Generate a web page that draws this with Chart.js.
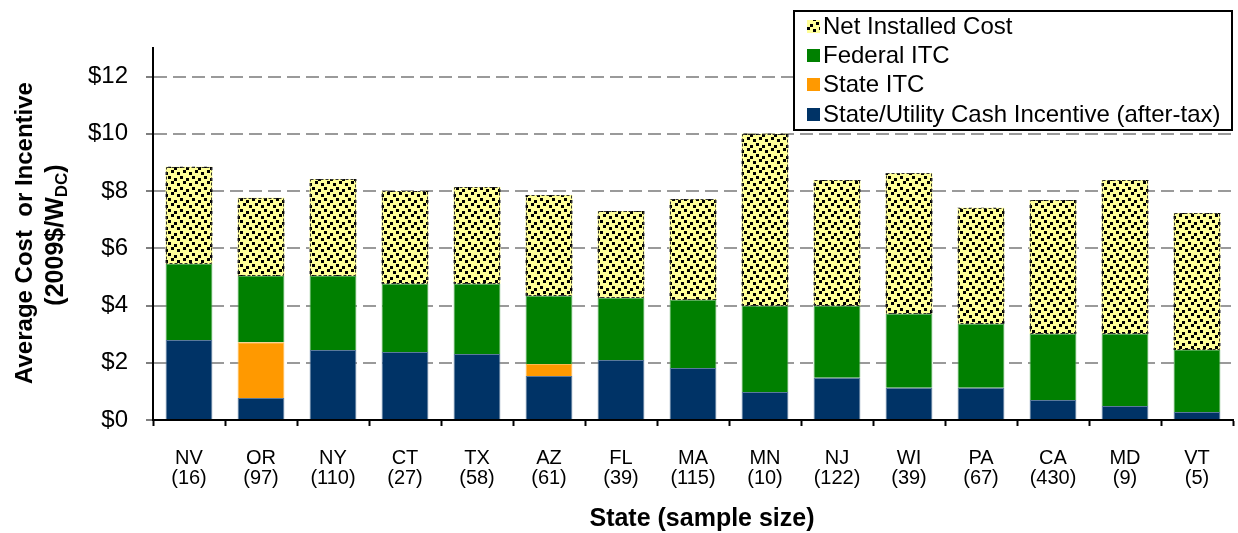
<!DOCTYPE html>
<html>
<head>
<meta charset="utf-8">
<script src="https://cdn.jsdelivr.net/npm/chart.js@4.4.1/dist/chart.umd.min.js"></script>
<style>
  html, body { margin: 0; padding: 0; background: #fff; }
  #wrap { width: 1238px; height: 533px; }
</style>
</head>
<body>
<div id="wrap"><canvas id="c" width="1238" height="533"></canvas></div>
<script>
// States with their sample sizes
const states = ['NV', 'OR', 'NY', 'CT', 'TX', 'AZ', 'FL', 'MA', 'MN', 'NJ', 'WI', 'PA', 'CA', 'MD', 'VT'];
const sampleSizes = [16, 97, 110, 27, 58, 61, 39, 115, 10, 122, 39, 67, 430, 9, 5];

// Stacked components, 2009$/W_DC (bottom to top)
const cashIncentive = [2.80, 0.77, 2.45, 2.38, 2.31, 1.54, 2.10, 1.82, 0.98, 1.48, 1.13, 1.13, 0.70, 0.49, 0.28];
const stateITC      = [0, 1.95, 0, 0, 0, 0.42, 0, 0, 0, 0, 0, 0, 0, 0, 0];
const federalITC    = [2.65, 2.31, 2.58, 2.38, 2.45, 2.38, 2.17, 2.38, 3.01, 2.51, 2.58, 2.23, 2.31, 2.52, 2.17];
const netCost       = [3.40, 2.74, 3.39, 3.24, 3.38, 3.52, 3.03, 3.52, 6.01, 4.40, 4.91, 4.06, 4.68, 5.38, 4.78];

const yTicks = [0, 2, 4, 6, 8, 10, 12];

const FONT = "'Liberation Sans', Arial, sans-serif";

// Yellow fill with black confetti squares
function makeConfetti() {
  const t = document.createElement('canvas');
  t.width = 12; t.height = 11;
  const g = t.getContext('2d');
  g.fillStyle = '#FFFF99';
  g.fillRect(0, 0, 12, 11);
  g.fillStyle = '#000';
  [[0, 0], [6, 2], [3, 5], [9, 7]].forEach(([x, y]) => g.fillRect(x, y, 3, 3));
  return document.getElementById('c').getContext('2d').createPattern(t, 'repeat');
}
const confetti = makeConfetti();

const labels = states.map((s, i) => [s, '(' + sampleSizes[i] + ')']);

// Dashed outline around the net-cost segments
const netOutline = {
  id: 'netOutline',
  afterDatasetsDraw(chart) {
    const meta = chart.getDatasetMeta(3);
    const ctx = chart.ctx;
    ctx.save();
    ctx.strokeStyle = '#333';
    ctx.lineWidth = 1;
    ctx.setLineDash([3, 2]);
    meta.data.forEach(b => {
      const x0 = Math.round(b.x - b.width / 2) + 0.5;
      const x1 = Math.round(b.x + b.width / 2) - 0.5;
      ctx.strokeRect(x0, Math.round(b.y) + 0.5, x1 - x0, Math.round(b.base - b.y) - 1);
    });
    ctx.restore();
  }
};

// Axis titles and the boxed legend
const decorations = {
  id: 'decorations',
  afterDraw(chart) {
    const ctx = chart.ctx;
    ctx.save();
    ctx.fillStyle = '#000';

    // y title, rotated
    ctx.save();
    ctx.translate(25, 233);
    ctx.rotate(-Math.PI / 2);
    ctx.font = 'bold 24px ' + FONT;
    ctx.textAlign = 'center';
    ctx.textBaseline = 'middle';
    ctx.fillText('Average Cost  or Incentive', 0, 0);
    ctx.restore();

    ctx.save();
    ctx.translate(56, 235);
    ctx.rotate(-Math.PI / 2);
    ctx.textBaseline = 'middle';
    ctx.textAlign = 'left';
    const big = 'bold 25px ' + FONT, small = 'bold 17px ' + FONT;
    const parts = [['(2009$/W', big, 0], ['DC', small, 6], [')', big, 0]];
    let total = 0;
    parts.forEach(p => { ctx.font = p[1]; total += ctx.measureText(p[0]).width; });
    let x = -total / 2;
    parts.forEach(p => { ctx.font = p[1]; ctx.fillText(p[0], x, p[2]); x += ctx.measureText(p[0]).width; });
    ctx.restore();

    // x title
    ctx.font = 'bold 25px ' + FONT;
    ctx.textAlign = 'center';
    ctx.textBaseline = 'middle';
    ctx.fillText('State (sample size)', 702, 519);

    // legend box
    const bx = 794, by = 11, bw = 438, bh = 119;
    ctx.fillStyle = '#fff';
    ctx.fillRect(bx, by, bw, bh);
    ctx.strokeStyle = '#000';
    ctx.lineWidth = 2;
    ctx.strokeRect(bx, by, bw, bh);
    const order = [3, 2, 1, 0];
    const rowY = [26, 55, 84, 114];
    ctx.font = '24px ' + FONT;
    ctx.textAlign = 'left';
    ctx.textBaseline = 'middle';
    order.forEach((di, k) => {
      const ds = chart.data.datasets[di];
      ctx.fillStyle = ds.backgroundColor;
      ctx.fillRect(807, rowY[k] - 6, 13, 13);
      ctx.fillStyle = '#000';
      ctx.fillText(ds.label, 823, rowY[k] + 1);
    });
    ctx.restore();
  }
};

new Chart(document.getElementById('c'), {
  type: 'bar',
  data: {
    labels: labels,
    datasets: [
      { label: 'State/Utility Cash Incentive (after-tax)', data: cashIncentive, backgroundColor: '#003366', borderColor: '#5a7a9c', borderWidth: 1 },
      { label: 'State ITC', data: stateITC, backgroundColor: '#FF9900', borderColor: '#ffb84d', borderWidth: 1 },
      { label: 'Federal ITC', data: federalITC, backgroundColor: '#008000', borderColor: '#4da64d', borderWidth: 1 },
      { label: 'Net Installed Cost', data: netCost, backgroundColor: confetti, borderWidth: 0 }
    ]
  },
  options: {
    responsive: false,
    animation: false,
    devicePixelRatio: 1,
    layout: { padding: { top: 48, right: 5, left: 0, bottom: 0 } },
    datasets: { bar: { barPercentage: 0.65, categoryPercentage: 1.0 } },
    plugins: { legend: { display: false }, tooltip: { enabled: false } },
    scales: {
      x: {
        stacked: true,
        afterFit(s) { s.height = 113; },
        grid: { drawOnChartArea: false, offset: true, tickLength: 6, tickColor: '#000', tickWidth: 2 },
        border: { display: true, color: '#000', width: 2 },
        ticks: { color: '#000', font: { family: FONT, size: 20, lineHeight: 1.0 }, padding: 22, maxRotation: 0, autoSkip: false }
      },
      y: {
        stacked: true,
        min: 0,
        max: 13,
        afterFit(s) { s.width = 153; },
        afterBuildTicks(s) { s.ticks = yTicks.map(v => ({ value: v })); },
        grid: {
          color: c => (c.tick && c.tick.value > 0 && c.tick.value <= 12) ? '#9a9a9a' : 'rgba(0,0,0,0)',
          lineWidth: 2,
          tickLength: 7,
          tickColor: '#555',
          tickWidth: 1.5
        },
        border: { display: true, color: '#000', width: 2, dash: [13, 6] },
        ticks: {
          color: '#000',
          font: { family: FONT, size: 24 },
          padding: 18,
          callback: v => '$' + v
        }
      }
    }
  },
  plugins: [netOutline, decorations]
});
</script>
</body>
</html>
